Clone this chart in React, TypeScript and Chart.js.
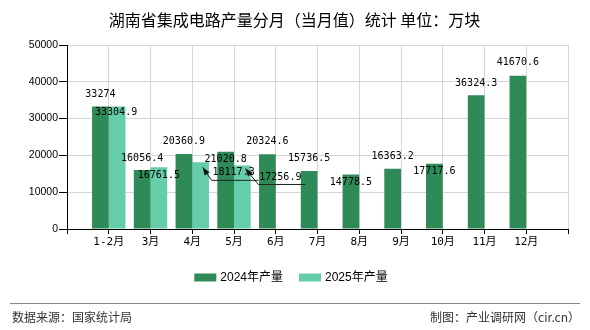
import React, { useEffect, useRef } from "react";
import { Chart, registerables } from "chart.js";

Chart.register(...registerables);

// ---- data ----
const months = ["1-2月", "3月", "4月", "5月", "6月", "7月", "8月", "9月", "10月", "11月", "12月"];
const output2024 = [33274, 16056.4, 20360.9, 21020.8, 20324.6, 15736.5, 14778.5, 16363.2, 17717.6, 36324.3, 41670.6];
const output2025 = [33304.9, 16761.5, 18117.3, 17256.9];
const seriesNames = ["2024年产量", "2025年产量"];
const yMax = 50000;
const yStep = 10000;

const titleText = "湖南省集成电路产量分月（当月值）统计 单位：万块";
const sourceText = "数据来源：国家统计局";
const creditText = "制图：产业调研网（cir.cn）";

// ---- label placement (offsets relative to bar top-centre) ----
const labelDy2024 = [-12, -12, -13, 8, -13, -13, 8, -12, 8, -12, -13];
const labelOff2025 = [[-1, 6], [0, 8], [33, 10], [38, 12]];
const leaders2025: (number[][] | null)[] = [null, null, [[2, 5], [11, 18], [58, 18]], [[3, 3], [16, 19], [63, 19]]];

const colors = ["#2E8B57", "#66CDAA"];
const gridColor = "#d6d6d6";

const axisLabels = ["", ...months, ""];
const pad = (arr: number[]) => {
  const out: (number | null)[] = [null, ...arr];
  while (out.length < axisLabels.length) out.push(null);
  return out;
};

const labelPlugin = {
  id: "customDraw",
  afterDatasetsDraw(chart: any) {
    const ctx = chart.ctx;
    ctx.save();
    ctx.font = '10px "DejaVu Sans Mono", monospace';
    ctx.textAlign = "center";
    ctx.textBaseline = "middle";
    ctx.fillStyle = "#000";
    const m0 = chart.getDatasetMeta(0);
    output2024.forEach((v, i) => {
      const el = m0.data[i + 1];
      if (!el) return;
      ctx.fillText(String(v), el.x, el.y + labelDy2024[i]);
    });
    const m1 = chart.getDatasetMeta(1);
    output2025.forEach((v, i) => {
      const el = m1.data[i + 1];
      if (!el) return;
      const [dx, dy] = labelOff2025[i];
      const ld = leaders2025[i];
      if (ld) {
        ctx.strokeStyle = "#222";
        ctx.lineWidth = 1;
        ctx.beginPath();
        ctx.moveTo(el.x + ld[0][0], el.y + ld[0][1]);
        for (let k = 1; k < ld.length; k++) ctx.lineTo(el.x + ld[k][0], el.y + ld[k][1]);
        ctx.stroke();
        // arrow head
        const hx = el.x + ld[0][0], hy = el.y + ld[0][1];
        const ex = el.x + ld[1][0], ey = el.y + ld[1][1];
        const ang = Math.atan2(hy - ey, hx - ex);
        const L = 8, W = 3;
        ctx.fillStyle = "#111";
        ctx.beginPath();
        ctx.moveTo(hx, hy);
        ctx.lineTo(hx - L * Math.cos(ang) + W * Math.sin(ang), hy - L * Math.sin(ang) - W * Math.cos(ang));
        ctx.lineTo(hx - L * Math.cos(ang) - W * Math.sin(ang), hy - L * Math.sin(ang) + W * Math.cos(ang));
        ctx.closePath();
        ctx.fill();
        ctx.fillStyle = "#000";
      }
      ctx.fillText(String(v), el.x + dx, el.y + dy);
    });
    ctx.restore();
  },
  afterDraw(chart: any) {
    const ctx = chart.ctx;
    const W = chart.width;
    ctx.save();
    // title
    ctx.fillStyle = "#000";
    ctx.font = '16px "Noto Sans CJK SC", sans-serif';
    ctx.textAlign = "center";
    ctx.textBaseline = "middle";
    ctx.fillText(titleText, 294.5, 20);
    // legend
    ctx.font = '12px "Liberation Sans", "Noto Sans CJK SC", sans-serif';
    ctx.textAlign = "left";
    const boxW = 22, boxH = 8, gapBox = 4, gapItem = 16;
    const widths = seriesNames.map((s) => ctx.measureText(s).width);
    const total = widths.reduce((a, w) => a + boxW + gapBox + w, 0) + gapItem * (seriesNames.length - 1);
    let x = 291 - total / 2;
    const ly = 277.5;
    seriesNames.forEach((s, i) => {
      ctx.fillStyle = colors[i];
      ctx.fillRect(x, ly - boxH / 2, boxW, boxH);
      ctx.fillStyle = "#000";
      ctx.fillText(s, x + boxW + gapBox, ly + 0.5);
      x += boxW + gapBox + widths[i] + gapItem;
    });
    // separator
    ctx.strokeStyle = "#888";
    ctx.lineWidth = 1;
    ctx.beginPath();
    ctx.moveTo(10, 303.5);
    ctx.lineTo(W - 10, 303.5);
    ctx.stroke();
    // footer
    ctx.fillStyle = "#333";
    ctx.font = '12px "Noto Sans CJK SC", sans-serif';
    ctx.textAlign = "left";
    ctx.fillText(sourceText, 12, 317);
    ctx.textAlign = "right";
    ctx.fillText(creditText, W - 10, 317);
    ctx.restore();
  },
};

export default function App() {
  const ref = useRef<HTMLCanvasElement | null>(null);
  useEffect(() => {
    if (!ref.current) return;
    const chart = new Chart(ref.current, {
      type: "bar",
      data: {
        labels: axisLabels,
        datasets: [
          { label: seriesNames[0], data: pad(output2024), backgroundColor: colors[0], borderWidth: 0 },
          { label: seriesNames[1], data: pad(output2025), backgroundColor: colors[1], borderWidth: 0 },
        ],
      },
      options: {
        animation: false,
        responsive: false,
        devicePixelRatio: 1,
        layout: { padding: { top: 45, left: 0, right: 22, bottom: 76 } },
        datasets: { bar: { categoryPercentage: 0.8, barPercentage: 1.0 } },
        plugins: { legend: { display: false }, title: { display: false }, tooltip: { enabled: false } },
        scales: {
          x: {
            type: "category",
            offset: false,
            grid: {
              offset: false,
              color: (c: any) => (c.index === 0 ? "rgba(0,0,0,0)" : gridColor),
              tickColor: "#000",
              tickLength: 5,
              drawTicks: true,
            },
            border: { color: "#000", width: 1 },
            ticks: {
              autoSkip: false,
              maxRotation: 0,
              minRotation: 0,
              color: "#000",
              padding: 2,
              font: { family: '"DejaVu Sans Mono", "Noto Sans CJK SC", monospace', size: 11 },
            },
            afterFit: (s: any) => {
              s.height = 25;
            },
          },
          y: {
            min: 0,
            max: yMax,
            grid: {
              color: (c: any) => (c.tick && c.tick.value === 0 ? "rgba(0,0,0,0)" : gridColor),
              tickColor: "#000",
              tickLength: 8,
            },
            border: { color: "#000", width: 1 },
            ticks: {
              stepSize: yStep,
              color: "#000",
              padding: 1,
              font: { family: '"Liberation Sans", sans-serif', size: 10.5 },
              callback: (v: any) => String(v),
            },
            afterFit: (s: any) => {
              s.width = 67;
            },
          },
        },
      },
      plugins: [labelPlugin],
    });
    return () => chart.destroy();
  }, []);
  return (
    <div style={{ position: "fixed", left: 0, top: 0, width: 590, height: 330, background: "#fff" }}>
      <canvas ref={ref} width={590} height={330} style={{ display: "block" }} />
    </div>
  );
}
